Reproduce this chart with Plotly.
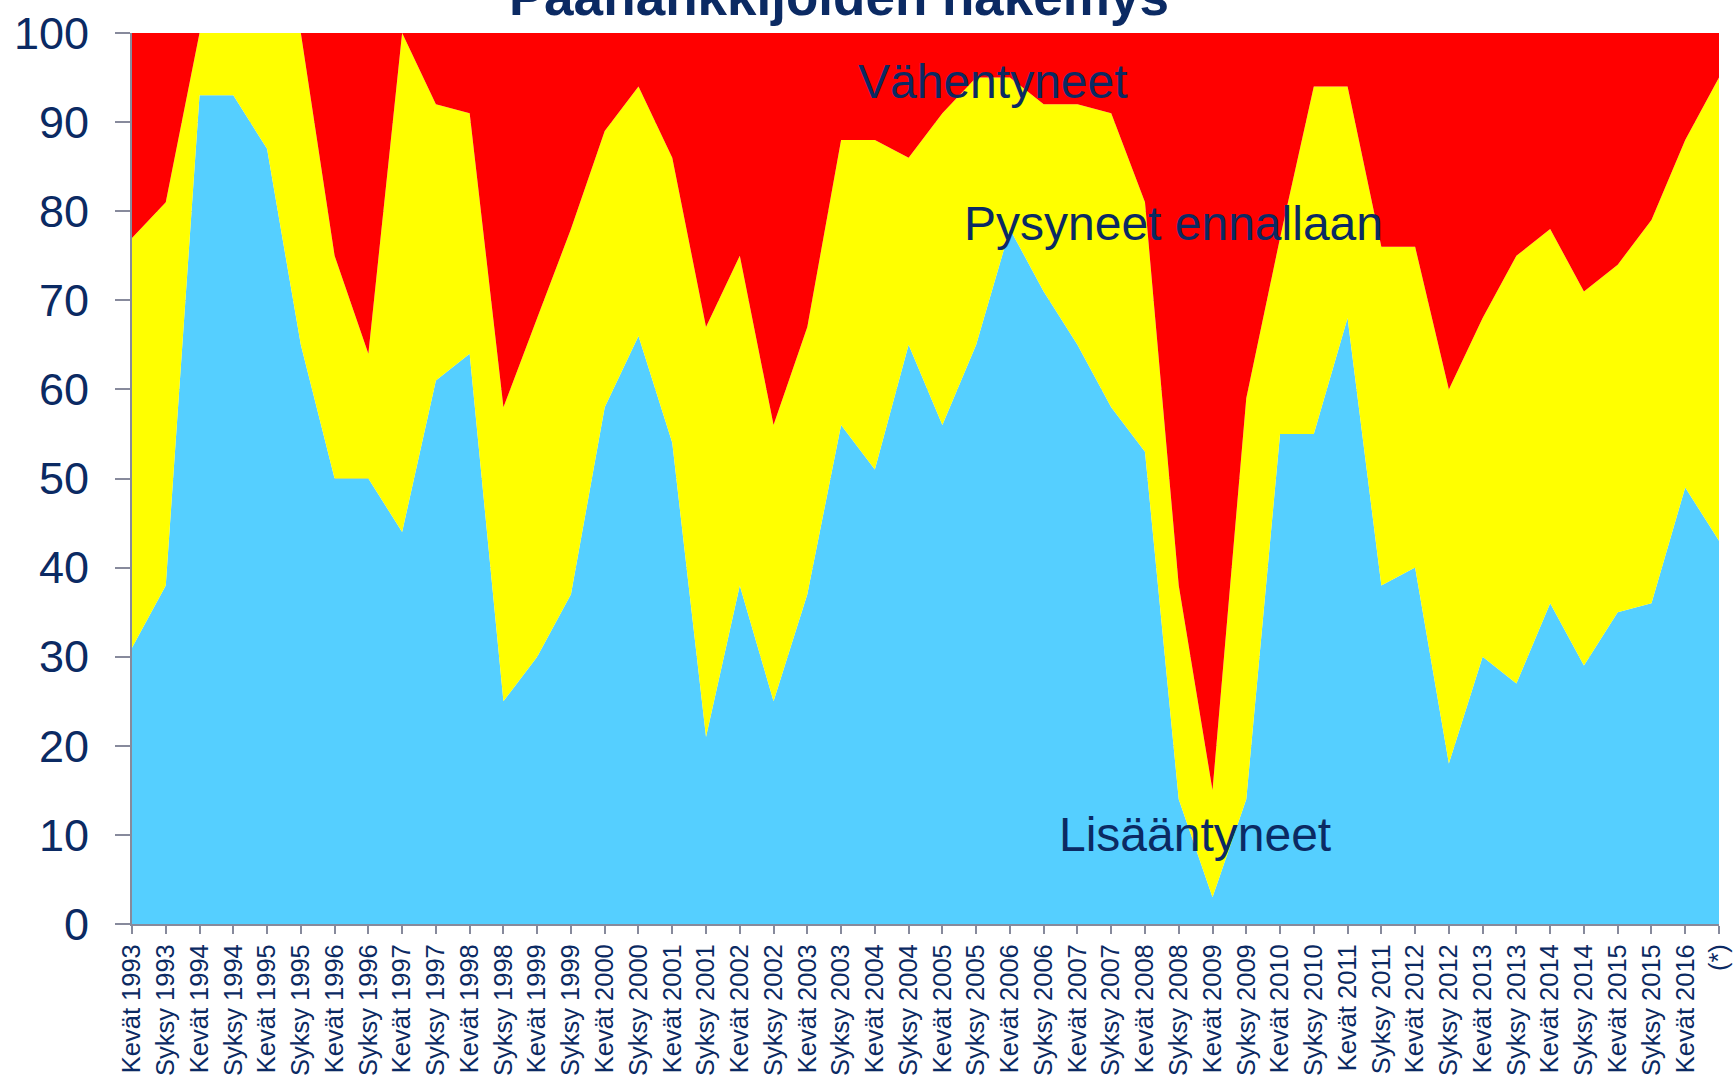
import plotly.graph_objects as go

labels = ["Kevät 1993", "Syksy 1993", "Kevät 1994", "Syksy 1994", "Kevät 1995", "Syksy 1995",
          "Kevät 1996", "Syksy 1996", "Kevät 1997", "Syksy 1997", "Kevät 1998", "Syksy 1998",
          "Kevät 1999", "Syksy 1999", "Kevät 2000", "Syksy 2000", "Kevät 2001", "Syksy 2001",
          "Kevät 2002", "Syksy 2002", "Kevät 2003", "Syksy 2003", "Kevät 2004", "Syksy 2004",
          "Kevät 2005", "Syksy 2005", "Kevät 2006", "Syksy 2006", "Kevät 2007", "Syksy 2007",
          "Kevät 2008", "Syksy 2008", "Kevät 2009", "Syksy 2009", "Kevät 2010", "Syksy 2010",
          "Kevät 2011", "Syksy 2011", "Kevät 2012", "Syksy 2012", "Kevät 2013", "Syksy 2013",
          "Kevät 2014", "Syksy 2014", "Kevät 2015", "Syksy 2015", "Kevät 2016", "(*)"]

lisaantyneet = [31, 38, 93, 93, 87, 65, 50, 50, 44, 61, 64, 25, 30, 37, 58, 66, 54, 21, 38, 25,
                37, 56, 51, 65, 56, 65, 78, 71, 65, 58, 53, 14, 3, 14, 55, 55, 68, 38, 40, 18,
                30, 27, 36, 29, 35, 36, 49, 43]
pysyneet = [46, 43, 7, 7, 13, 35, 25, 14, 56, 31, 27, 33, 38, 41, 31, 28, 32, 46, 37, 31,
            30, 32, 37, 21, 35, 30, 17, 21, 27, 33, 28, 24, 12, 45, 22, 39, 26, 38, 36, 42,
            38, 48, 42, 42, 39, 43, 39, 52]
vahentyneet = [23, 19, 0, 0, 0, 0, 25, 36, 0, 8, 9, 42, 32, 22, 11, 6, 14, 33, 25, 44,
               33, 12, 12, 14, 9, 5, 5, 8, 8, 9, 19, 62, 85, 41, 23, 6, 6, 24, 24, 40,
               32, 25, 22, 29, 26, 21, 12, 5]

y_ticks = [0, 10, 20, 30, 40, 50, 60, 70, 80, 90, 100]

NAVY = "#0b2a63"
FONT = "Liberation Sans, Arial, sans-serif"
xs = list(range(len(labels)))

fig = go.Figure()
for name, vals, col in [("Lisääntyneet", lisaantyneet, "#55CFFF"),
                        ("Pysyneet ennallaan", pysyneet, "#FFFF00"),
                        ("Vähentyneet", vahentyneet, "#FF0000")]:
    fig.add_trace(go.Scatter(x=xs, y=vals, name=name, stackgroup="one", mode="lines",
                             line=dict(width=0, color=col), fillcolor=col,
                             hoverinfo="skip", showlegend=False))

fig.add_annotation(text="Vähentyneet", x=25.5, y=94.6, xref="x", yref="y",
                   showarrow=False, font=dict(size=48, color=NAVY, family=FONT))
fig.add_annotation(text="Pysyneet ennallaan", x=30.83, y=78.6, xref="x", yref="y",
                   showarrow=False, font=dict(size=48, color=NAVY, family=FONT))
fig.add_annotation(text="Lisääntyneet", x=31.48, y=10.1, xref="x", yref="y",
                   showarrow=False, font=dict(size=48, color=NAVY, family=FONT))
fig.add_annotation(text="<b>Päähankkijoiden näkemys</b>", x=0.4452, y=1.0058,
                   xref="paper", yref="paper", xanchor="center", yanchor="bottom",
                   showarrow=False, font=dict(size=53, color=NAVY, family=FONT))

fig.update_layout(
    width=1736, height=1078,
    margin=dict(l=132, r=17, t=33, b=154, autoexpand=False),
    paper_bgcolor="white", plot_bgcolor="white",
    font=dict(family=FONT, color=NAVY),
    xaxis=dict(range=[0, len(labels) - 1], tickmode="array", tickvals=xs, ticktext=labels,
               tickangle=-90, tickfont=dict(size=25.5, color=NAVY, family=FONT),
               showline=True, linecolor="#878a9c", linewidth=2,
               ticks="outside", ticklen=8, tickwidth=2, tickcolor="#878a9c",
               showgrid=False, zeroline=False, automargin=False,
               ticklabeloverflow="allow"),
    yaxis=dict(range=[0, 100], tickmode="array", tickvals=y_ticks,
               tickfont=dict(size=45, color=NAVY, family=FONT),
               showline=True, linecolor="#878a9c", linewidth=2,
               ticks="outside", ticklen=15, tickwidth=2, tickcolor="#878a9c",
               ticklabelstandoff=17, automargin=False, ticklabeloverflow="allow",
               showgrid=True, gridcolor="#b8b8c8", gridwidth=1, zeroline=False),
)

fig.write_html("out.html", config={"displayModeBar": False},
               post_script="document.body.style.margin='0';document.body.style.overflow='hidden';")
